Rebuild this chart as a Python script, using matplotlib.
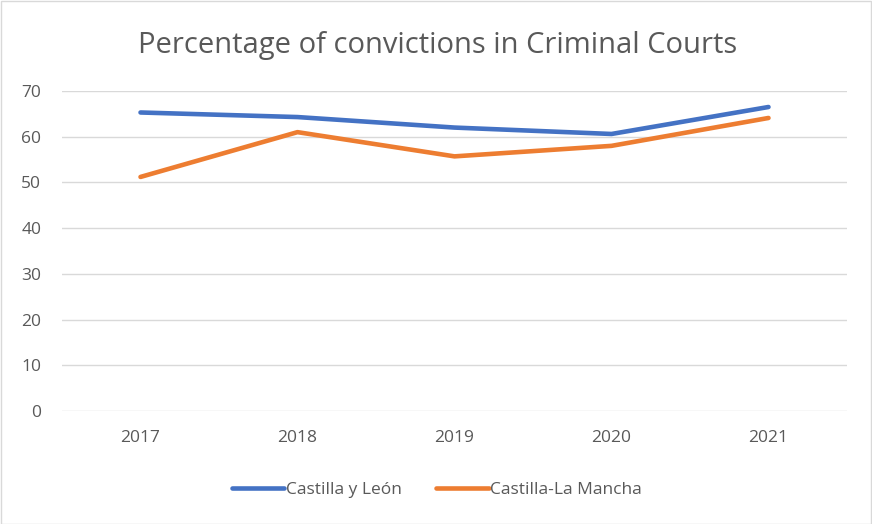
import matplotlib
matplotlib.use("Agg")
import matplotlib.pyplot as plt
from matplotlib.patches import Rectangle

years = ["2017", "2018", "2019", "2020", "2021"]
castilla_leon = [65.3, 64.3, 62.0, 60.6, 66.5]
castilla_mancha = [51.2, 61.0, 55.7, 58.0, 64.1]
yticks = [0, 10, 20, 30, 40, 50, 60, 70]

plt.rcParams['font.family'] = ['Open Sans', 'DejaVu Sans']
W, H = 872, 524
fig = plt.figure(figsize=(W/100, H/100), dpi=100)
fig.patch.set_facecolor("white")
fig.add_artist(Rectangle((0.5/W, 0.5/H), 1-1.5/W, 1-1.5/H, transform=fig.transFigure,
                         fill=False, edgecolor="#d9d9d9", linewidth=1))

ax = fig.add_axes([62/W, 1-411/H, (847-62)/W, (411-91)/H])
x = list(range(len(years)))
ax.plot(x, castilla_leon, color="#4472c4", linewidth=3.3, solid_capstyle="round", label="Castilla y León")
ax.plot(x, castilla_mancha, color="#ed7d31", linewidth=3.3, solid_capstyle="round", label="Castilla-La Mancha")
ax.set_xlim(-0.5, len(years)-0.5)
ax.set_ylim(0, 70)
ax.set_yticks(yticks)
ax.set_xticks(x)
ax.set_xticklabels(years)
ax.grid(axis="y", color="#d9d9d9", linewidth=1)
ax.set_axisbelow(True)
for s in ax.spines.values():
    s.set_visible(False)
ax.tick_params(axis="both", length=0, labelsize=12.5, colors="#595959")
ax.tick_params(axis="x", pad=14)
ax.tick_params(axis="y", pad=15)

fig.text(438/W, 1-45/H, "Percentage of convictions in Criminal Courts", ha="center", va="center",
         fontsize=21, color="#595959")
leg = fig.legend(loc="center", bbox_to_anchor=(437/W, 1-490/H), ncol=2, frameon=False,
                 fontsize=12.5, handlelength=3.0, handletextpad=0.1, columnspacing=2.0)
for t in leg.get_texts():
    t.set_color("#595959")
fig.savefig("out.png", dpi=100)
